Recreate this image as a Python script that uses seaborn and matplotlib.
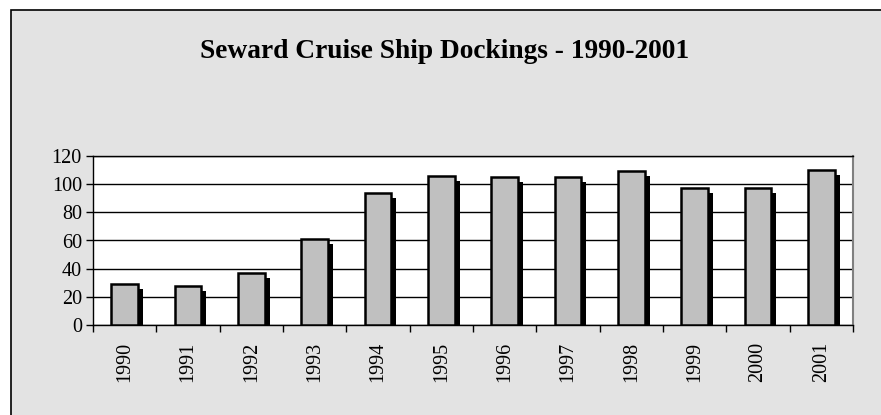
import matplotlib
matplotlib.use("Agg")
import matplotlib.pyplot as plt
import matplotlib.transforms as mtransforms
from matplotlib.patches import Rectangle
import pandas as pd
import seaborn as sns

# Data
years = ["1990", "1991", "1992", "1993", "1994", "1995",
         "1996", "1997", "1998", "1999", "2000", "2001"]
dockings = [29, 28, 37, 61, 94, 106, 105, 105, 109, 97, 97, 110]
y_ticks = [0, 20, 40, 60, 80, 100, 120]

df = pd.DataFrame({"year": years, "dockings": dockings})

sns.set_theme(style="white")
plt.rcParams["font.family"] = ["Liberation Serif", "DejaVu Serif"]
plt.rcParams["text.color"] = "black"
plt.rcParams["xtick.color"] = "black"
plt.rcParams["ytick.color"] = "black"

W, H = 881, 415
fig = plt.figure(figsize=(W / 100, H / 100), dpi=100)
fig.patch.set_facecolor("white")

# grey chart area with black frame (runs off the right/bottom edge)
frame = Rectangle((11 / W, -0.05), 1.2, (H - 10) / H + 0.05,
                  transform=fig.transFigure, facecolor="#e3e3e3",
                  edgecolor="black", linewidth=1.2, zorder=-10)
fig.patches.append(frame)

ax = fig.add_axes([93 / W, (H - 325) / H, 760 / W, (325 - 156) / H])
ax.set_facecolor("white")

# shadow bars (black, shifted right and down)
sns.barplot(data=df, x="year", y="dockings", color="black", width=0.42,
            saturation=1, edgecolor="black", linewidth=0, ax=ax, zorder=2)
shift = mtransforms.ScaledTranslation(5 / 100, -5 / 100, fig.dpi_scale_trans)
for p in ax.patches:
    p.set_transform(ax.transData + shift)

# main bars
sns.barplot(data=df, x="year", y="dockings", color="#c0c0c0", width=0.42,
            saturation=1, edgecolor="black", linewidth=1.8, ax=ax, zorder=3)

ax.set_ylim(0, 120)
ax.set_xlim(-0.5, len(years) - 0.5)
ax.set_yticks(y_ticks)
ax.set_yticklabels([str(t) for t in y_ticks], fontsize=14.5)
ax.yaxis.grid(True, color="black", linewidth=1.0, zorder=1)
ax.set_axisbelow(True)

# x ticks at category boundaries, labels centered on bars
ax.set_xticks([i - 0.5 for i in range(len(years) + 1)], minor=False)
ax.set_xticklabels([""] * (len(years) + 1))
ax.set_xticks(range(len(years)), minor=True)
ax.set_xticklabels(years, minor=True, rotation=90, fontsize=14.5)
ax.tick_params(axis="x", which="major", direction="out", length=5,
               width=1, color="black", bottom=True)
ax.tick_params(axis="x", which="minor", length=0, pad=12)
ax.tick_params(axis="y", direction="out", length=5, width=1,
               color="black", left=True, pad=3)

ax.set_xlabel("")
ax.set_ylabel("")

for side in ["left", "bottom", "top"]:
    ax.spines[side].set_color("black")
    ax.spines[side].set_linewidth(1.0)
ax.spines["right"].set_color("#808080")
ax.spines["right"].set_linewidth(1.5)

fig.text(445 / W, 1 - 52 / H, "Seward Cruise Ship Dockings - 1990-2001",
         ha="center", va="center", fontsize=19.7, fontweight="bold",
         color="black")

fig.savefig("out.png", dpi=100)
